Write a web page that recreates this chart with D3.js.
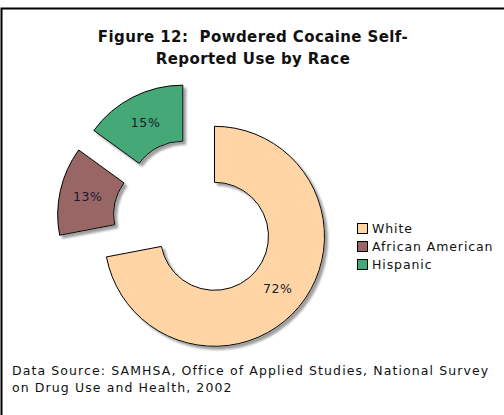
<!DOCTYPE html>
<html>
<head>
<meta charset="utf-8">
<script src="https://cdn.jsdelivr.net/npm/d3@7"></script>
<style>
  html, body { margin: 0; padding: 0; background: #fff; }
  svg { display: block; }
  text { white-space: pre; }
</style>
</head>
<body>
<svg id="chart" width="504" height="415"></svg>
<script>
// Powdered cocaine self-reported use, share by race (percent)
const categories = ["White", "African American", "Hispanic"];
const shares = [72, 13, 15];
const sliceColors = ["#FFD5A6", "#996666", "#44A877"];
const titleLines = ["Figure 12:  Powdered Cocaine Self-", "Reported Use by Race"];
const sourceLines = [
  "Data Source: SAMHSA, Office of Applied Studies, National Survey",
  "on Drug Use and Health, 2002"
];

const svg = d3.select("#chart");
const font = "'DejaVu Sans', Verdana, sans-serif";

// outer frame
svg.append("rect")
  .attr("x", 1.5).attr("y", 8.5)
  .attr("width", 540).attr("height", 440)
  .attr("fill", "#fff")
  .attr("stroke", "#000")
  .attr("stroke-width", 2);

// title
const title = svg.append("text")
  .attr("text-anchor", "middle")
  .attr("font-family", font)
  .attr("font-weight", "bold")
  .attr("font-size", 15)
  .attr("letter-spacing", 0.4)
  .attr("fill", "#111");
titleLines.forEach((t, i) => {
  title.append("tspan").attr("x", 253).attr("y", 42 + i * 21.5).text(t);
});

// drop shadow for the slices
const defs = svg.append("defs");
const f = defs.append("filter").attr("id", "shadow")
  .attr("x", "-20%").attr("y", "-20%").attr("width", "140%").attr("height", "140%");
f.append("feDropShadow")
  .attr("dx", 3).attr("dy", 3)
  .attr("stdDeviation", 1.2)
  .attr("flood-color", "#808080")
  .attr("flood-opacity", 0.75);

// donut geometry
const cx = 196, cy = 221;
const outerR = 110, innerR = 54;
const explode = { "White": 24, "African American": 29, "Hispanic": 29 };

const color = d3.scaleOrdinal().domain(categories).range(sliceColors);
const pie = d3.pie().sort(null).value(d => d.value).startAngle(0).endAngle(2 * Math.PI);
const arc = d3.arc().innerRadius(innerR).outerRadius(outerR);

const data = categories.map((c, i) => ({ name: c, value: shares[i] }));
const arcs = pie(data);

const g = svg.append("g").attr("transform", `translate(${cx},${cy})`);

const slices = g.selectAll("g.slice")
  .data(arcs)
  .join("g")
  .attr("class", "slice")
  .attr("transform", d => {
    const mid = (d.startAngle + d.endAngle) / 2;
    const e = explode[d.data.name];
    return `translate(${e * Math.sin(mid)},${-e * Math.cos(mid)})`;
  });

slices.append("path")
  .attr("d", arc)
  .attr("fill", d => color(d.data.name))
  .attr("stroke", "#000")
  .attr("stroke-width", 1)
  .attr("stroke-linejoin", "round")
  .attr("filter", "url(#shadow)");

slices.append("text")
  .attr("transform", d => `translate(${arc.centroid(d)})`)
  .attr("text-anchor", "middle")
  .attr("dominant-baseline", "central")
  .attr("font-family", font)
  .attr("font-size", 12.5)
  .attr("letter-spacing", 0.6)
  .attr("fill", "#1a1a2e")
  .text(d => `${d.data.value}%`);

// legend
const legend = svg.append("g").attr("transform", "translate(357,223)");
const rows = legend.selectAll("g")
  .data(categories)
  .join("g")
  .attr("transform", (d, i) => `translate(0,${i * 18})`);
rows.append("rect")
  .attr("x", 0.5).attr("y", 0.5)
  .attr("width", 10).attr("height", 10)
  .attr("fill", d => color(d))
  .attr("stroke", "#000")
  .attr("stroke-width", 1);
rows.append("text")
  .attr("x", 15).attr("y", 10)
  .attr("font-family", font)
  .attr("font-size", 12.5)
  .attr("letter-spacing", 0.9)
  .attr("fill", "#111")
  .text(d => d);

// data source note
const note = svg.append("text")
  .attr("font-family", font)
  .attr("font-size", 12.5)
  .attr("letter-spacing", 1.1)
  .attr("fill", "#111");
sourceLines.forEach((t, i) => {
  note.append("tspan").attr("x", 12).attr("y", 375 + i * 17).text(t);
});
</script>
</body>
</html>
